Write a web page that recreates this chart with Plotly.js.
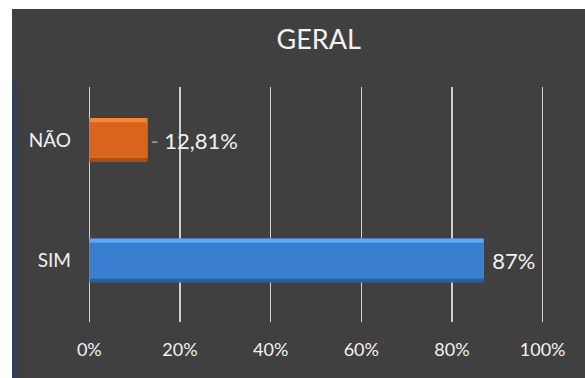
<!DOCTYPE html>
<html>
<head>
<meta charset="utf-8">
<script src="https://cdn.plot.ly/plotly-3.0.1.min.js"></script>
<style>
  html, body { margin: 0; padding: 0; background: #ffffff; width: 585px; height: 378px; overflow: hidden; }
  #chart { position: absolute; left: 12px; top: 9px; width: 573px; height: 369px; }
  #strip { position: absolute; left: 12px; top: 83px; width: 5px; height: 295px; background: #313e55; }
</style>
</head>
<body>
<div id="chart"></div>
<div id="strip"></div>
<script>
// Data
const categories = ["SIM", "NÃO"];
const values = [0.87, 0.1281];
const labels = ["\u2009\u200987%", "<span style='color:#9a9a9a'>-</span> 12,81%"];
const tickVals = [0, 0.2, 0.4, 0.6, 0.8, 1.0];
const tickText = ["0%", "20%", "40%", "60%", "80%", "100%"];
const titleText = "GERAL";

// Styles
const midColors = ["#3a7fcf", "#d9651c"];
const lightColors = ["#5ea8f0", "#f0873a"];
const darkColors = ["#2a5f9f", "#a84e14"];
const FONT = "Lato, 'Open Sans', sans-serif";
const BW = 0.365;
const EDGE = 0.035;

const base = { type: "bar", orientation: "h", x: values, y: categories, hoverinfo: "skip", showlegend: false };

const traces = [
  Object.assign({}, base, { width: BW, offset: -BW / 2, marker: { color: darkColors } }),
  Object.assign({}, base, { width: BW - EDGE, offset: -BW / 2 + EDGE, marker: { color: lightColors } }),
  Object.assign({}, base, {
    width: BW - 2 * EDGE, offset: -BW / 2 + EDGE, marker: { color: midColors },
    text: labels, textposition: "outside", cliponaxis: false,
    textfont: { family: FONT, size: 22, color: "#f2f2f2" }
  })
];

const layout = {
  width: 573, height: 369,
  paper_bgcolor: "#404040", plot_bgcolor: "#404040",
  margin: { l: 76, r: 41, t: 78, b: 56 },
  barmode: "overlay",
  title: {
    text: titleText, x: 0.506, xref: "paper", y: 0.916, yref: "container", yanchor: "middle",
    font: { family: FONT, size: 27, color: "#f2f2f2" }
  },
  xaxis: {
    range: [-0.003, 1.003], tickvals: tickVals, ticktext: tickText,
    showgrid: true, gridcolor: "#cfcfcf", gridwidth: 1.5,
    zeroline: false, showline: false, ticks: "",
    ticklabelstandoff: 15,
    tickfont: { family: FONT, size: 18, color: "#f2f2f2" }
  },
  yaxis: {
    type: "category", range: [-0.51, 1.44],
    showgrid: false, zeroline: false, showline: false, ticks: "",
    ticklabelstandoff: 16,
    tickfont: { family: FONT, size: 19, color: "#f2f2f2" }
  }
};

Plotly.newPlot("chart", traces, layout, { staticPlot: true, displayModeBar: false });
</script>
</body>
</html>
